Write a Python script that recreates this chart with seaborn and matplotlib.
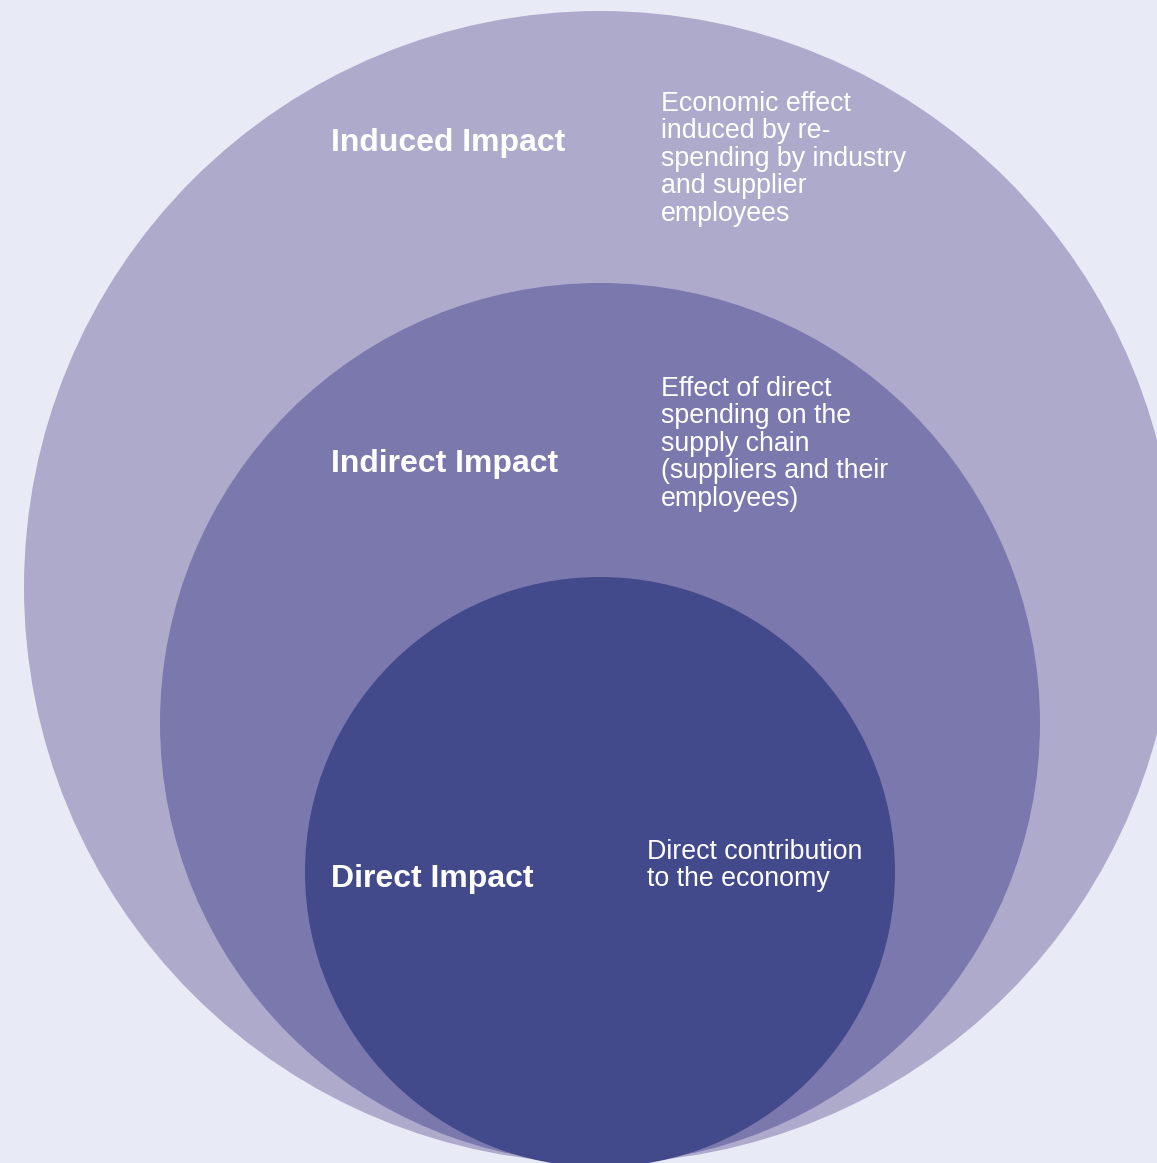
import matplotlib.pyplot as plt
import matplotlib.patches as mpatches
import seaborn as sns

# ========== DATA ==========
levels = ['Induced Impact', 'Indirect Impact', 'Direct Impact']
descriptions = [
    'Economic effect\ninduced by re-\nspending by industry\nand supplier\nemployees',
    'Effect of direct\nspending on the\nsupply chain\n(suppliers and their\nemployees)',
    'Direct contribution\nto the economy',
]
radii = [576, 440, 295]
colors = ['#aeaacc', '#7b78ae', '#434a8c']

sns.set_style('white')
plt.rcParams['font.family'] = ['Liberation Sans', 'DejaVu Sans']

W, H = 1157, 1163
fig = plt.figure(figsize=(W / 100, H / 100), dpi=100)
fig.patch.set_facecolor('#e8eaf5')
ax = fig.add_axes([0, 0, 1, 1])
ax.set_facecolor('#e8eaf5')
ax.set_xlim(0, W)
ax.set_ylim(H, 0)
ax.set_aspect('equal')
ax.axis('off')

cx = 600
bottom = 1163
label_y = [143, 464, 879]
desc_pos = [(661, 91), (661, 376), (647, 839)]

for i, (lvl, desc, r, c) in enumerate(zip(levels, descriptions, radii, colors)):
    circ = mpatches.Circle((cx, bottom - r + (4 if i == 2 else 0)), r, facecolor=c,
                           edgecolor='none', zorder=i + 1)
    ax.add_patch(circ)
    ax.text(331, label_y[i], lvl, color='white', fontsize=23, fontweight='bold',
            ha='left', va='center', zorder=10)
    ax.text(desc_pos[i][0], desc_pos[i][1], desc, color='white', fontsize=19.3,
            ha='left', va='top', linespacing=1.07, zorder=10)

plt.savefig('out.png', dpi=100, facecolor=fig.get_facecolor())
